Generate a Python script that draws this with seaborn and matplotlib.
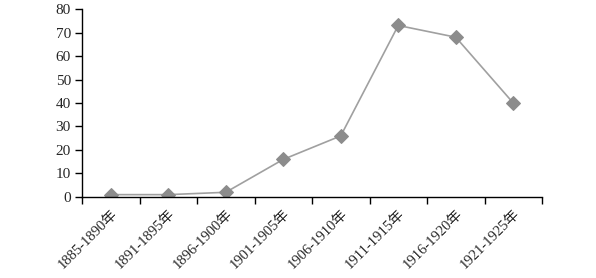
import matplotlib
matplotlib.use("Agg")
import matplotlib.pyplot as plt
import seaborn as sns
import pandas as pd
import numpy as np

periods = ["1885-1890年", "1891-1895年", "1896-1900年", "1901-1905年",
           "1906-1910年", "1911-1915年", "1916-1920年", "1921-1925年"]
counts = [1, 1, 2, 16, 26, 73, 68, 40]
yticks = [0, 10, 20, 30, 40, 50, 60, 70, 80]

sns.set_style("ticks")
plt.rcParams['font.family'] = ['Liberation Serif', 'Noto Sans CJK SC', 'DejaVu Sans']
plt.rcParams['xtick.bottom'] = True
plt.rcParams['ytick.left'] = True

df = pd.DataFrame({"period": periods, "count": counts, "idx": np.arange(len(periods))})

fig = plt.figure(figsize=(5.96, 2.78), dpi=100)
ax = fig.add_axes([0.1376, 0.2914, 0.7718, 0.6762])

sns.lineplot(data=df, x="idx", y="count", ax=ax, color="#a0a0a0", linewidth=1.2,
             marker="D", markersize=7, markerfacecolor="#8c8c8c",
             markeredgecolor="#8c8c8c")

n = len(periods)
ax.set_xlim(-0.5, n - 0.5)
ax.set_ylim(0, 80)
ax.set_yticks(yticks)
ax.set_yticklabels([str(v) for v in yticks], fontsize=11)
ax.set_xticks(np.arange(n))
ax.set_xticklabels(periods, rotation=45, ha="right", va="top",
                   rotation_mode="anchor", fontsize=10.5)
ax.set_xticks(np.arange(n + 1) - 0.5, minor=True)
ax.tick_params(axis="x", which="major", length=0, pad=7)
ax.tick_params(axis="x", which="minor", bottom=True, length=5, width=1, color="black", direction="out")
ax.tick_params(axis="y", left=True, length=5, width=1, color="black", direction="out", pad=3)
ax.set_xlabel("")
ax.set_ylabel("")
for s in ["top", "right"]:
    ax.spines[s].set_visible(False)
for s in ["left", "bottom"]:
    ax.spines[s].set_color("black")
    ax.spines[s].set_linewidth(1)

fig.savefig("out.png", dpi=100)
